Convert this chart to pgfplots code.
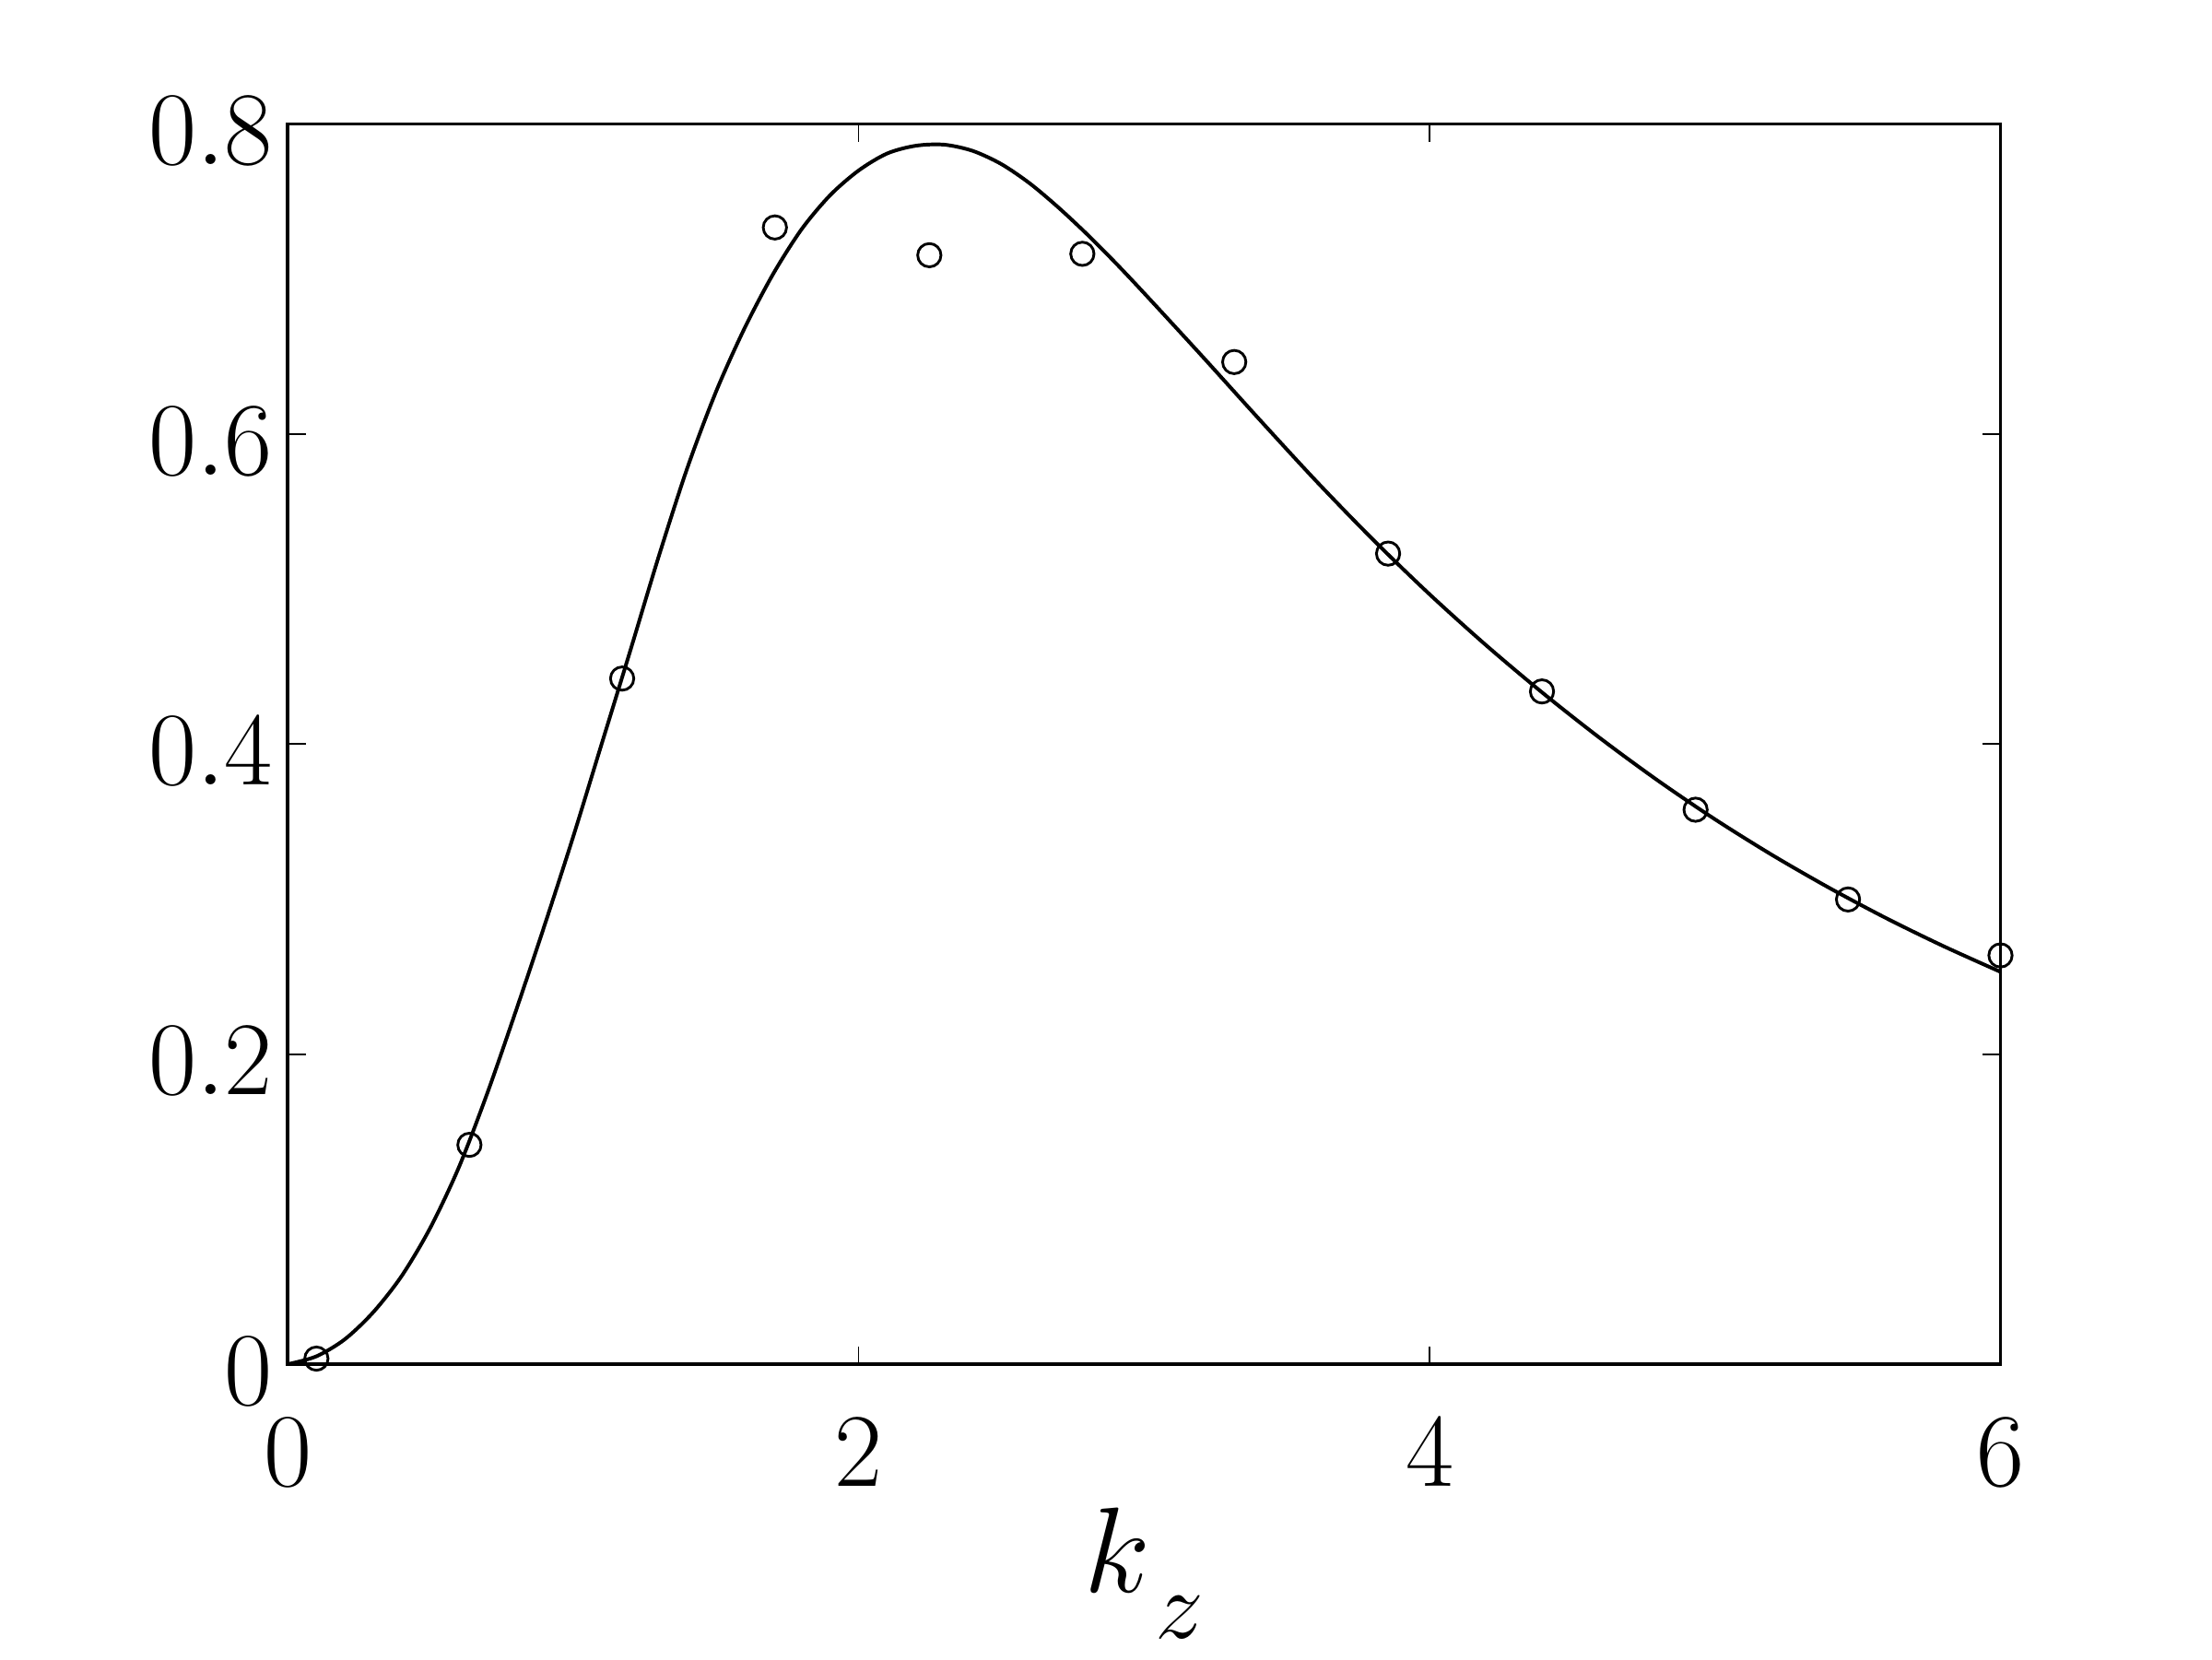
\RequirePackage{fix-cm}
\documentclass[border=0pt]{standalone}
\usepackage{pgfplots}
\pgfplotsset{compat=1.18}

\begin{document}
\begin{tikzpicture}
\useasboundingbox (0,0) rectangle (16cm,12cm);
\begin{axis}[
  at={(2.08cm,2.133cm)}, anchor=south west,
  scale only axis, width=12.39cm, height=8.97cm,
  xmin=0, xmax=6, ymin=0, ymax=0.8,
  xtick={0,2,4,6}, ytick={0,0.2,0.4,0.6,0.8},
  yticklabel style={/pgf/number format/fixed, /pgf/number format/precision=1},
  tick align=inside, major tick length=0.13cm,
  axis line style={line width=0.6pt},
  tick style={line width=0.35pt, black},
  ticklabel style={font=\fontsize{21.5}{26}\selectfont, inner sep=0pt},
  xticklabel style={yshift=-0.39cm},
  yticklabel style={xshift=-0.1cm, yshift=-0.05cm},
  xlabel={$k$\hspace{1pt}\raisebox{-9.5pt}{\fontsize{20}{24}\selectfont$z$}},
  xlabel style={font=\fontsize{25}{30}\selectfont, inner sep=0pt, yshift=-0.15cm},
]
% solid curve
\addplot[black, line width=0.75pt, smooth] coordinates {
(0,0) (0.1,0.005) (0.2,0.016) (0.3,0.0335) (0.4,0.057) (0.5,0.088)
(0.6,0.127) (0.7,0.175) (0.8,0.228) (0.9,0.283) (1.0,0.340) (1.1,0.400)
(1.2,0.460) (1.3,0.521) (1.4,0.578) (1.5,0.627) (1.6,0.668) (1.7,0.703)
(1.8,0.732) (1.9,0.754) (2.0,0.770) (2.1,0.781) (2.2,0.786) (2.3,0.7867)
(2.4,0.7827) (2.5,0.7742) (2.6,0.7617) (2.7,0.7462) (2.8,0.729) (2.9,0.7105)
(3.0,0.691) (3.2,0.651) (3.4,0.6103) (3.6,0.5703) (3.8,0.5323) (4.0,0.4967)
(4.2,0.4635) (4.4,0.4325) (4.6,0.4035) (4.8,0.3765) (5.0,0.3515) (5.2,0.3285)
(5.4,0.3073) (5.6,0.2877) (5.8,0.2697) (6.0,0.2531)
};
% circles
\addplot[black, only marks, mark=o, mark size=2.4pt, mark options={line width=0.55pt}] coordinates {
(0.101,0.0036) (0.637,0.1415) (1.172,0.4423) (1.707,0.7333) (2.248,0.7154)
(2.784,0.7163) (3.316,0.6465) (3.855,0.5229) (4.394,0.4340) (4.932,0.3577)
(5.466,0.2998) (6.000,0.2637)
};
\end{axis}
\end{tikzpicture}
\end{document}
